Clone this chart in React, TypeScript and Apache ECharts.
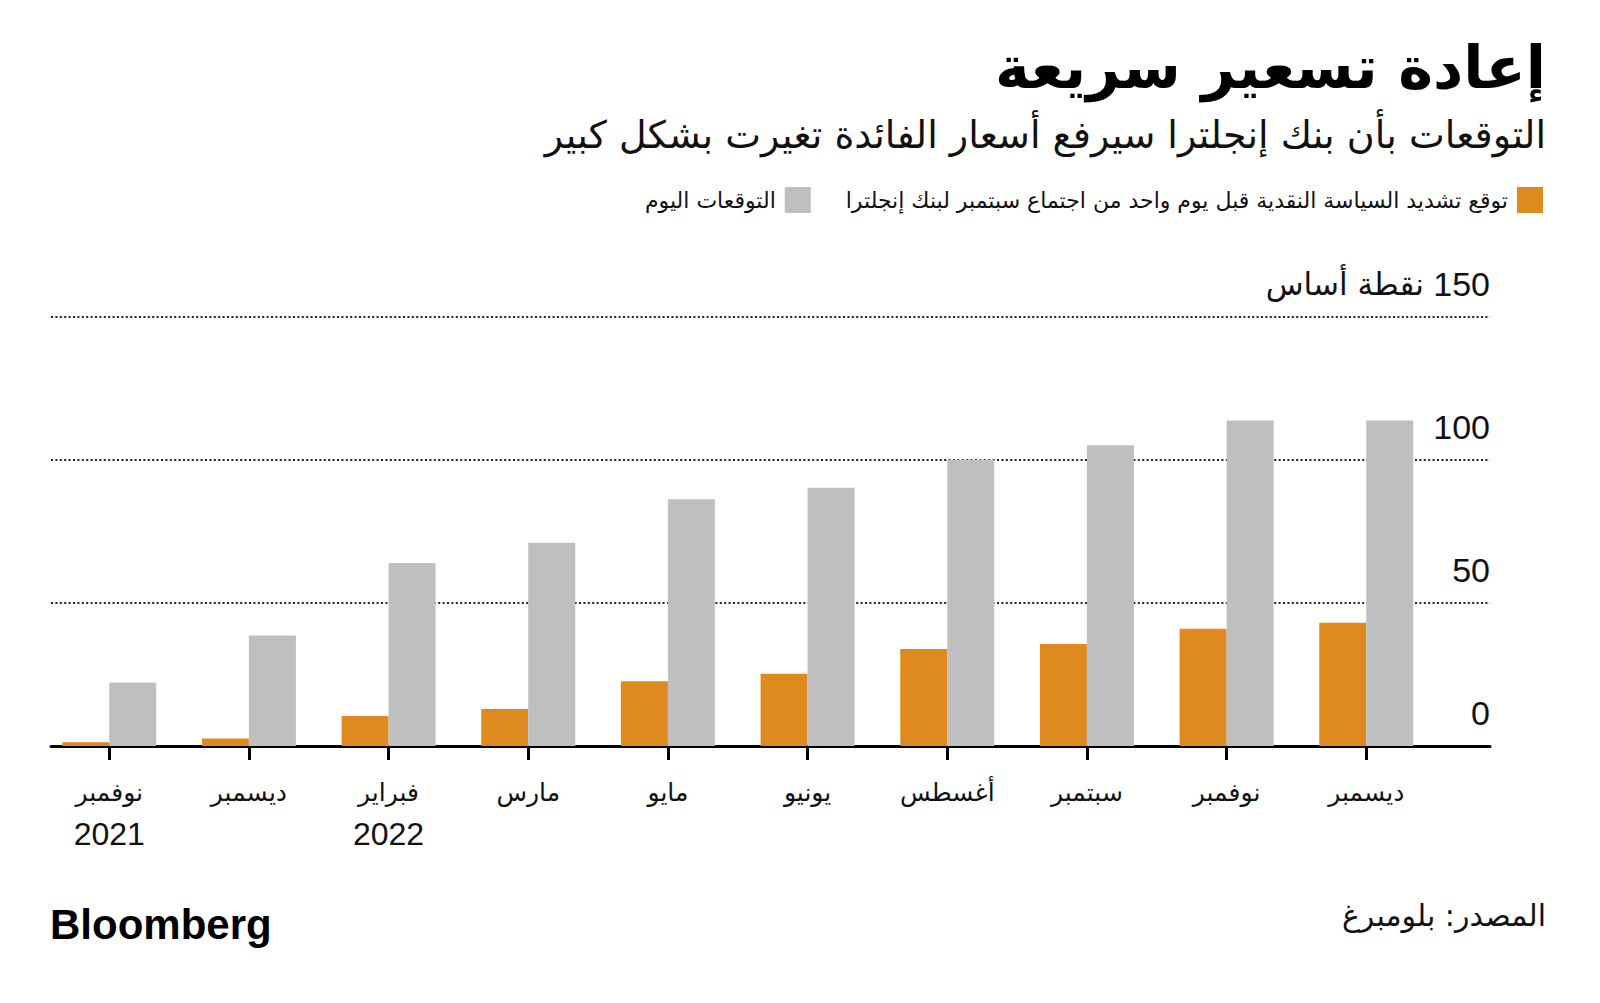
import React, { useEffect, useRef } from "react";
import * as echarts from "echarts";

const months = ["نوفمبر", "ديسمبر", "فبراير", "مارس", "مايو", "يونيو", "أغسطس", "سبتمبر", "نوفمبر", "ديسمبر"];
const years = ["2021", "", "2022", "", "", "", "", "", "", ""];
const beforeSeptMeeting = [1.3, 2.6, 10.5, 12.9, 22.6, 25.3, 33.9, 35.7, 41.0, 43.1];
const todayExpectations = [22.2, 38.6, 64.0, 71.1, 86.3, 90.3, 100.1, 105.2, 113.8, 113.8];
const yMin = 0;
const yMax = 150;
const yStep = 50;
const unitLabel = "نقطة أساس";
const seriesNames = ["توقع تشديد السياسة النقدية قبل يوم واحد من اجتماع سبتمبر لبنك إنجلترا", "التوقعات اليوم"];
const titleText = "إعادة تسعير سريعة";
const subtitleText = "التوقعات بأن بنك إنجلترا سيرفع أسعار الفائدة تغيرت بشكل كبير";
const sourceText = "المصدر: بلومبرغ";
const logoText = "Bloomberg";

const ORANGE = "#DF8A1F";
const GRAY = "#BFBFBF";
const AR = "'DejaVu Sans', sans-serif";
const NUM = "'Liberation Sans', 'DejaVu Sans', sans-serif";

export default function App() {
  const ref = useRef<HTMLDivElement>(null);
  useEffect(() => {
    if (!ref.current) return;
    const chart = echarts.init(ref.current, undefined, { renderer: "svg" });
    const option: any = {
      animation: false,
      backgroundColor: "#ffffff",
      grid: [
        { left: 51, right: 110, top: 317, bottom: 257 },
        { left: 39.4, right: 163.9, top: 317, bottom: 257 },
      ],
      xAxis: [
        {
          gridIndex: 0,
          type: "value",
          min: 0,
          max: 1,
          axisLine: { show: true, lineStyle: { color: "#000", width: 3 } },
          axisTick: { show: false },
          axisLabel: { show: false },
          splitLine: { show: false },
        },
        {
          gridIndex: 1,
          type: "category",
          data: months,
          axisLine: { show: false },
          axisTick: { show: true, alignWithLabel: true, length: 14, lineStyle: { color: "#000", width: 3 } },
          axisLabel: {
            margin: 26,
            interval: 0,
            formatter: (v: string, i: number) =>
              years[i] ? `{m|${v}}\n{y|${years[i]}}` : `{m|${v}}`,
            rich: {
              m: { fontFamily: AR, fontSize: 25, color: "#111", lineHeight: 40 },
              y: { fontFamily: NUM, fontSize: 32, color: "#111", lineHeight: 44 },
            },
          },
          splitLine: { show: false },
        },
      ],
      yAxis: [
        {
          gridIndex: 0,
          type: "value",
          position: "right",
          min: yMin,
          max: yMax,
          interval: yStep,
          axisLine: { show: false },
          axisTick: { show: false },
          axisLabel: {
            inside: true,
            margin: 0,
            verticalAlign: "bottom",
            padding: [0, 0, 16, 0],
            formatter: (v: number) => (v === yMax ? `{u|${unitLabel}}{n| ${v}}` : `{n|${v}}`),
            rich: {
              n: { fontFamily: NUM, fontSize: 34, color: "#111" },
              u: { fontFamily: AR, fontSize: 31, color: "#111" },
            },
          },
          splitLine: { show: true, lineStyle: { color: "#222", width: 2, type: [2, 2.4] } },
        },
        {
          gridIndex: 1,
          type: "value",
          min: yMin,
          max: yMax,
          interval: yStep,
          show: false,
          splitLine: { show: false },
        },
      ],
      legend: {
        data: [seriesNames[1], seriesNames[0]],
        align: "right",
        right: 52,
        top: 182,
        itemWidth: 26,
        itemHeight: 26,
        itemGap: 35,
        icon: "rect",
        textStyle: { fontFamily: AR, fontSize: 22, color: "#111", padding: [0, 4, 0, 0] },
      },
      series: [
        {
          name: seriesNames[0],
          type: "bar",
          xAxisIndex: 1,
          yAxisIndex: 1,
          data: beforeSeptMeeting,
          barWidth: 47,
          barGap: "0%",
          itemStyle: { color: ORANGE },
        },
        {
          name: seriesNames[1],
          type: "bar",
          xAxisIndex: 1,
          yAxisIndex: 1,
          data: todayExpectations,
          barWidth: 47,
          barGap: "0%",
          itemStyle: { color: GRAY },
        },
      ],
      graphic: [
        {
          type: "text",
          right: 54,
          top: 38,
          style: { text: titleText, fontFamily: AR, fontWeight: "bold", fontSize: 59, fill: "#000" },
        },
        {
          type: "text",
          right: 54,
          top: 116,
          style: { text: subtitleText, fontFamily: AR, fontSize: 38, fill: "#111" },
        },
        {
          type: "text",
          right: 54,
          top: 900,
          style: { text: sourceText, fontFamily: AR, fontSize: 30, fill: "#111" },
        },
        {
          type: "text",
          left: 50,
          top: 903,
          style: { text: logoText, fontFamily: "'Liberation Sans', Arial, sans-serif", fontWeight: "bold", fontSize: 42, fill: "#000" },
        },
      ],
    };
    chart.setOption(option);
    return () => chart.dispose();
  }, []);
  return (
    <div
      ref={ref}
      style={{ position: "absolute", left: 0, top: 0, width: 1600, height: 1003, background: "#fff" }}
    />
  );
}
